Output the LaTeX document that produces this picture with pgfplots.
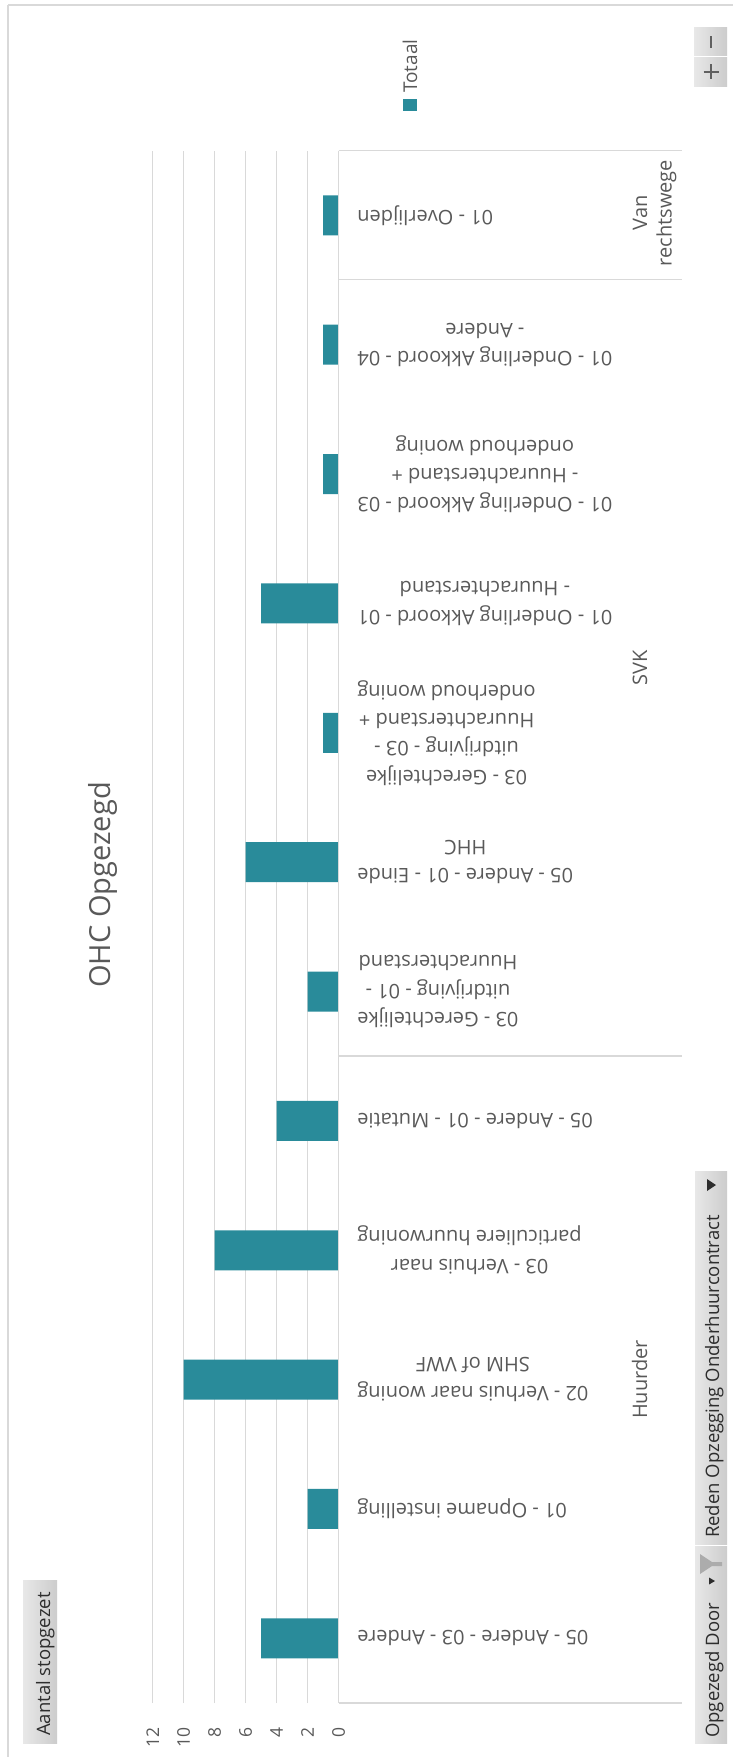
\documentclass[border=0pt]{standalone}
\usepackage{pgfplots}
\pgfplotsset{compat=1.18}
\usepackage{fontspec}
\setmainfont{Open Sans}
\definecolor{barteal}{RGB}{41,139,154}
\definecolor{txt}{RGB}{89,89,89}
\definecolor{gridc}{RGB}{217,217,217}
\definecolor{btntxt}{RGB}{45,45,45}
\definecolor{btnlo}{RGB}{232,232,232}
\definecolor{btnhi}{RGB}{204,204,204}

\begin{document}
\begin{tikzpicture}[x=1bp,y=1bp]
\fill[white] (0,0) rectangle (733,-1757);
\path[use as bounding box] (0,0) rectangle (733,-1757);

\begin{axis}[
  at={(245.6bp,-926.85bp)}, anchor=center,
  scale only axis, width=185.8bp, height=1552.3bp,
  xmin=0, xmax=12, x dir=reverse,
  ymin=-0.5, ymax=11.5,
  axis line style={draw=none},
  tick style={draw=none},
  xtick={0,2,...,12},
  xmajorgrids,
  major grid style={draw=gridc, line width=1.5bp},
  /pgf/number format/assume math mode=true,
  xticklabel style={rotate=90, anchor=east, inner sep=0pt,
    font=\fontsize{17.5bp}{20bp}\selectfont, text=txt},
  xticklabel shift=24bp,
  ytick={0,...,11},
  yticklabels={
    {05 - Andere - 03 - Andere},
    {01 - Opname instelling},
    {02 - Verhuis naar woning\\SHM of VWF},
    {03 - Verhuis naar\\particuliere huurwoning},
    {05 - Andere - 01 - Mutatie},
    {03 - Gerechtelijke\\uitdrijving - 01 -\\Huurachterstand},
    {05 - Andere - 01 - Einde\\HHC},
    {03 - Gerechtelijke\\uitdrijving - 03 -\\Huurachterstand +\\onderhoud woning},
    {01 - Onderling Akkoord - 01\\- Huurachterstand},
    {01 - Onderling Akkoord - 03\\- Huurachterstand +\\onderhoud woning},
    {01 - Onderling Akkoord - 04\\- Andere},
    {01 - Overlijden}},
  yticklabel pos=right,
  yticklabel style={rotate=180, anchor=east, align=center, inner sep=0pt,
    font=\fontsize{20bp}{28.3bp}\selectfont, text=txt},
  yticklabel shift=14.5bp,
  xbar, bar width=40bp,
  clip=false,
]
\addplot[xbar, fill=barteal, draw=none, bar width=40bp] coordinates {
  (5,0) (2,1) (10,2) (8,3) (4,4) (2,5) (6,6) (1,7) (5,8) (1,9) (1,10) (1,11)};
\end{axis}

\begin{scope}[yscale=-1]
  % frame of the chart area
  \draw[gridc, line width=1.5] (8,5) -- (733,5);
  \draw[gridc, line width=1.5] (8,5) -- (8,1757);
  % category axis and group separators
  \draw[gridc, line width=1.5] (338.5,150.7) -- (338.5,1703);
  \foreach \yy in {150.7,279.3,1056,1703}
    \draw[gridc, line width=1.5] (338.5,\yy) -- (682,\yy);
  % title
  \node[rotate=90, anchor=base, inner sep=0pt, text=txt,
        font=\fontsize{29bp}{34bp}\selectfont] at (110,885) {OHC Opgezegd};
  % legend
  \fill[barteal] (403,99) rectangle (417,111);
  \node[rotate=90, anchor=base west, inner sep=0pt, text=txt,
        font=\fontsize{19bp}{22bp}\selectfont] at (417,93) {Totaal};
  % group labels
  \begin{scope}[every node/.style={rotate=90, anchor=base, inner sep=0pt,
        text=txt, font=\fontsize{20bp}{24bp}\selectfont}]
    \node at (647,213) {Van};
    \node at (671.5,213) {rechtswege};
    \node at (647,668) {SVK};
    \node at (647,1379.6) {Huurder};
  \end{scope}
  % zoom buttons
  \shade[left color=btnlo, right color=btnhi] (694,27) rectangle (727,55);
  \shade[left color=btnlo, right color=btnhi] (694,57) rectangle (727,86);
  \draw[gray!75!black, line width=2] (711,36) -- (711,48);
  \draw[gray!75!black, line width=2] (703.5,71.7) -- (718.5,71.7) (711,64.2) -- (711,79.2);
  % value field button
  \shade[left color=btnlo, right color=btnhi] (23,1580) rectangle (57,1743);
  \node[rotate=90, anchor=base, inner sep=0pt, text=btntxt,
        font=\fontsize{18.5bp}{22bp}\selectfont] at (50,1664) {Aantal stopgezet};
  % axis field buttons
  \shade[left color=btnlo, right color=btnhi] (695,1171) rectangle (727,1544);
  \shade[left color=btnlo, right color=btnhi] (695,1546) rectangle (727,1743);
  \node[rotate=90, anchor=base west, inner sep=0pt, text=btntxt,
        font=\fontsize{18.5bp}{22bp}\selectfont] at (719,1538) {Reden Opzegging Onderhuurcontract};
  \fill[btntxt] (707,1179) -- (707,1191) -- (716,1185) -- cycle;
  \node[rotate=90, anchor=base west, inner sep=0pt, text=btntxt,
        font=\fontsize{18.5bp}{22bp}\selectfont] at (719,1738) {Opgezegd Door};
  \fill[btntxt] (709,1577.5) -- (709,1584.5) -- (715,1581) -- cycle;
  \fill[gray!65] (700,1554) -- (700,1574) -- (712,1566) -- (722,1566)
                 -- (722,1562) -- (712,1562) -- cycle;
\end{scope}
\end{tikzpicture}
\end{document}
